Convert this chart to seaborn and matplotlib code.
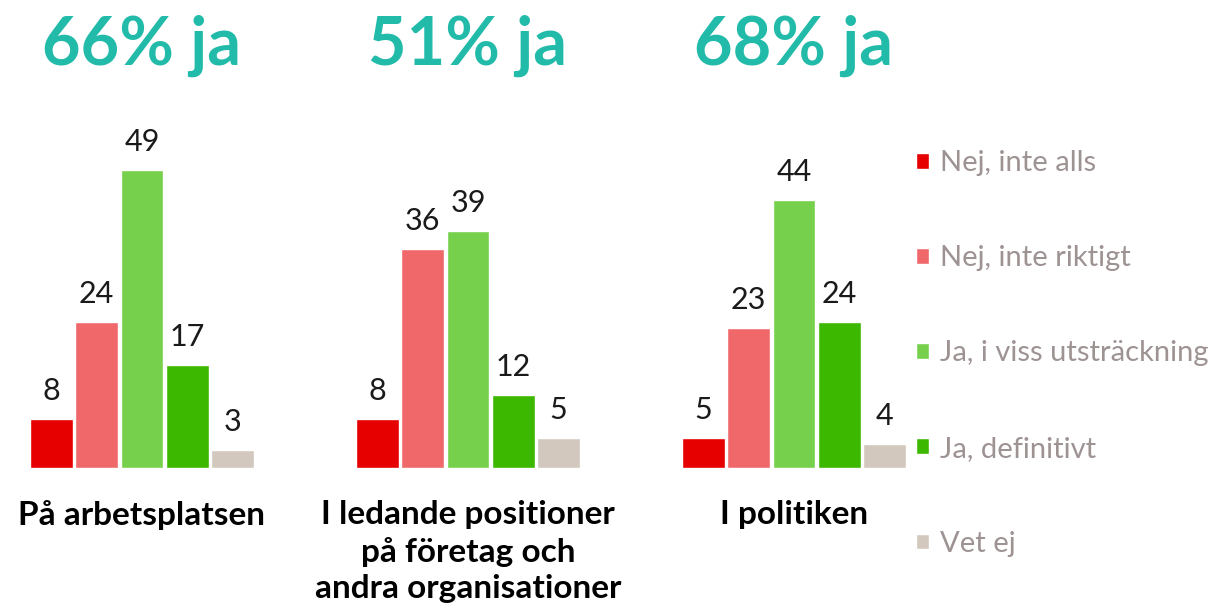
import pandas as pd
import seaborn as sns
import matplotlib.pyplot as plt

areas = ["På arbetsplatsen",
         "I ledande positioner\npå företag och\nandra organisationer",
         "I politiken"]
answers = ["Nej, inte alls", "Nej, inte riktigt", "Ja, i viss utsträckning",
           "Ja, definitivt", "Vet ej"]
nej_inte_alls = [8, 8, 5]
nej_inte_riktigt = [24, 36, 23]
ja_viss = [49, 39, 44]
ja_definitivt = [17, 12, 24]
vet_ej = [3, 5, 4]
headlines = ["66% ja", "51% ja", "68% ja"]

colors = ["#E60000", "#F0686A", "#76D04B", "#3DB800", "#D3C8BE"]

rows = []
for vals, ans in zip([nej_inte_alls, nej_inte_riktigt, ja_viss, ja_definitivt, vet_ej], answers):
    for area, v in zip(areas, vals):
        rows.append({"area": area, "answer": ans, "value": v})
df = pd.DataFrame(rows)

sns.set_style("white")
plt.rcParams["font.family"] = ["Lato", "DejaVu Sans"]

fig = plt.figure(figsize=(12.17, 6.05), dpi=100)
ax = fig.add_axes([0, 137 / 605, 1, 365 / 605])

sns.barplot(data=df, x="area", y="value", hue="answer", order=areas,
            hue_order=answers, palette=colors, width=0.695, gap=0.06,
            saturation=1, ax=ax, legend=True)

for cont in ax.containers:
    ax.bar_label(cont, padding=10, fontsize=22, color="#1a1a1a")

ax.set_xlim(-142 / 326, (1217 - 142) / 326)
ax.set_ylim(0, 60)
ax.set_xlabel("")
ax.set_ylabel("")
ax.set_yticks([])
ax.set_xticks([])
sns.despine(ax=ax, left=True, bottom=True)

for i, area in enumerate(areas):
    ax.text(i, -5.3, area, ha="center", va="top", fontsize=24,
            fontweight="bold", color="black", linespacing=1.3)
    ax.text(i, 69.4, headlines[i], ha="center", va="center", fontsize=48,
            fontweight="bold", color="#22BBAA")

handles, labels = ax.get_legend_handles_labels()
ax.get_legend().remove()
leg = fig.legend(handles, labels, loc="upper left",
                 bbox_to_anchor=(890 / 1217, 1 - 124 / 605), frameon=False,
                 fontsize=21, labelcolor="#9E9393", labelspacing=2.37,
                 handlelength=0.45, handleheight=0.45, handletextpad=0.35)

fig.savefig("out.png", dpi=100)
